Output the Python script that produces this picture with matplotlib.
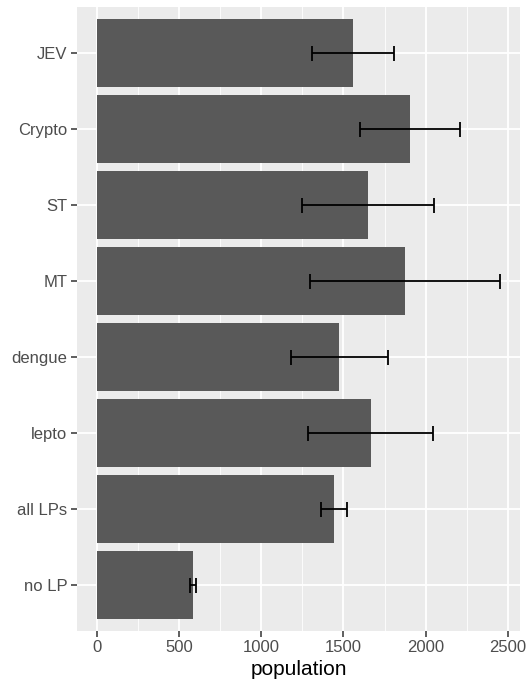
import matplotlib
matplotlib.use("Agg")
import matplotlib.pyplot as plt
import numpy as np
from matplotlib.ticker import MultipleLocator

# Mean population per group with lower / upper interval bounds (top to bottom)
groups = ["JEV", "Crypto", "ST", "MT", "dengue", "lepto", "all LPs", "no LP"]
population = [1555, 1903, 1649, 1875, 1474, 1665, 1441, 584]
lower = [1309, 1600, 1250, 1299, 1179, 1281, 1360, 567]
upper = [1806, 2207, 2050, 2453, 1771, 2046, 1523, 600]
x_ticks = [0, 500, 1000, 1500, 2000, 2500]

plt.rcParams["font.family"] = ["Liberation Sans", "DejaVu Sans"]

W, H = 528, 683
fig = plt.figure(figsize=(W / 100, H / 100), dpi=100)
ax = fig.add_axes([77.2 / W, (H - 630.7) / H, (520 - 77.2) / W, (630.7 - 7.3) / H])

ax.set_facecolor("#EBEBEB")
for s in ax.spines.values():
    s.set_visible(False)

pos = np.arange(len(groups))
ax.barh(pos, population, height=0.9, color="#595959", zorder=3)

pop = np.array(population)
xerr = np.vstack([pop - np.array(lower), np.array(upper) - pop])
ax.errorbar(pop, pos, xerr=xerr, fmt="none", ecolor="black",
            elinewidth=1.3, capsize=5.4, capthick=1.3, zorder=4)

# ggplot-like expansion of 5% on the continuous axis
xmax = max(upper)
ax.set_xlim(-0.05 * xmax, 1.05 * xmax)
ax.set_ylim(len(groups) - 0.4, -0.6)

ax.set_yticks(pos)
ax.set_yticklabels(groups)
ax.set_xticks(x_ticks)
ax.xaxis.set_minor_locator(MultipleLocator(250))

ax.grid(which="major", color="white", linewidth=1.3, zorder=0)
ax.grid(which="minor", axis="x", color="white", linewidth=0.6, zorder=0)
ax.set_axisbelow(True)

ax.tick_params(axis="both", which="major", length=4, width=1.1, color="#333333",
               labelsize=12, labelcolor="#4D4D4D", pad=3)
ax.tick_params(axis="both", which="minor", length=0)

ax.set_xlabel("population", fontsize=15, color="black", labelpad=3)

fig.savefig("out.png", dpi=100, facecolor="white")
